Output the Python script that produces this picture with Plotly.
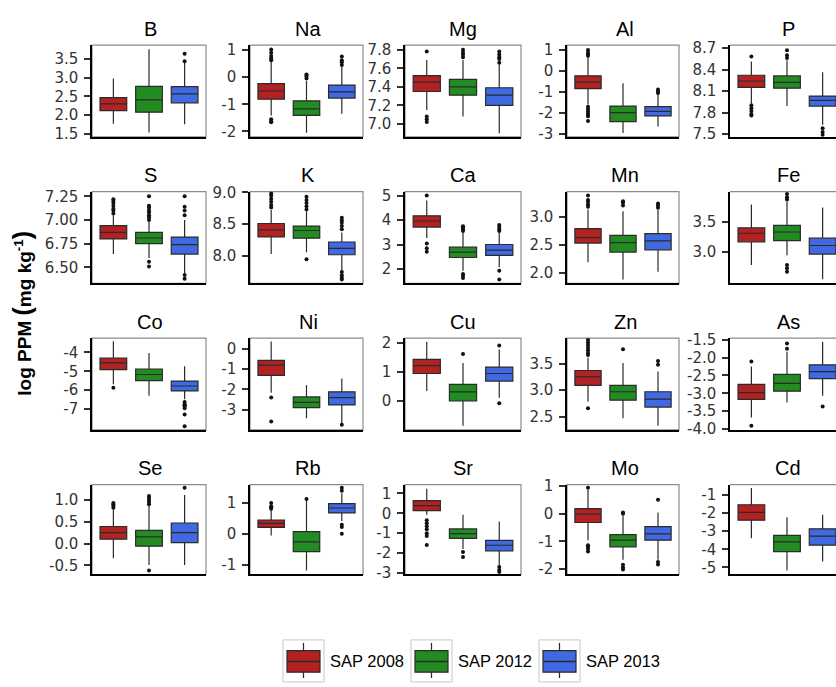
import plotly.graph_objects as go

# ---------------- data ----------------
ELEMENTS = ["B", "Na", "Mg", "Al", "P",
            "S", "K", "Ca", "Mn", "Fe",
            "Co", "Ni", "Cu", "Zn", "As",
            "Se", "Rb", "Sr", "Mo", "Cd"]
SERIES = ["SAP 2008", "SAP 2012", "SAP 2013"]

# per element: [SAP 2008, SAP 2012, SAP 2013]
LOWER = [
    [1.77, 1.54, 1.76], [-1.41, -2.05, -1.35], [7.15, 7.08, 6.90], [-1.60, -2.95, -2.64], [7.93, 7.89, 7.63],
    [6.64, 6.60, 6.44], [8.03, 8.06, 7.78], [3.27, 1.93, 2.07], [2.19, 1.88, 2.02], [2.79, 2.95, 2.56],
    [-5.69, -6.30, -6.48], [-2.16, -3.42, -3.70], [0.34, -0.85, 0.11], [2.78, 2.47, 2.33], [-3.68, -3.26, -3.07],
    [-0.34, -0.49, -0.49], [-0.05, -1.19, 0.42], [-0.08, -1.80, -2.62], [-0.96, -1.67, -1.67], [-3.39, -5.17, -4.67],
]
Q1 = [
    [2.12, 2.08, 2.33], [-0.81, -1.41, -0.77], [7.35, 7.31, 7.20], [-0.84, -2.41, -2.14], [8.15, 8.14, 7.89],
    [6.80, 6.75, 6.64], [8.30, 8.28, 8.02], [3.71, 2.47, 2.56], [2.53, 2.37, 2.41], [3.17, 3.19, 2.97],
    [-4.91, -5.49, -6.04], [-1.31, -2.89, -2.76], [0.94, 0.00, 0.68], [3.09, 2.81, 2.68], [-3.17, -2.94, -2.59],
    [0.10, -0.06, 0.02], [0.21, -0.58, 0.68], [0.13, -1.26, -1.89], [-0.32, -1.20, -0.96], [-2.39, -4.13, -3.77],
]
MEDIAN = [
    [2.30, 2.41, 2.57], [-0.51, -1.17, -0.54], [7.45, 7.40, 7.31], [-0.53, -1.98, -1.92], [8.24, 8.22, 7.97],
    [6.87, 6.81, 6.74], [8.41, 8.40, 8.12], [3.96, 2.69, 2.77], [2.63, 2.54, 2.57], [3.31, 3.33, 3.11],
    [-4.56, -5.17, -5.78], [-0.81, -2.64, -2.40], [1.21, 0.31, 0.94], [3.25, 2.97, 2.83], [-2.98, -2.72, -2.39],
    [0.25, 0.15, 0.25], [0.34, -0.26, 0.84], [0.38, -1.02, -1.61], [-0.02, -0.96, -0.73], [-1.96, -3.59, -3.27],
]
Q3 = [
    [2.47, 2.77, 2.76], [-0.24, -0.87, -0.29], [7.52, 7.48, 7.39], [-0.23, -1.67, -1.70], [8.32, 8.31, 8.03],
    [6.94, 6.87, 6.82], [8.51, 8.47, 8.22], [4.17, 2.89, 3.00], [2.79, 2.67, 2.70], [3.40, 3.44, 3.23],
    [-4.30, -4.88, -5.52], [-0.57, -2.37, -2.12], [1.42, 0.57, 1.16], [3.37, 3.09, 2.97], [-2.75, -2.47, -2.20],
    [0.39, 0.30, 0.47], [0.45, 0.07, 0.98], [0.64, -0.79, -1.36], [0.18, -0.76, -0.47], [-1.54, -3.23, -2.87],
]
UPPER = [
    [2.98, 3.76, 3.40], [0.58, -0.14, 0.40], [7.69, 7.69, 7.64], [0.67, -0.58, -1.12], [8.51, 8.53, 8.36],
    [7.05, 6.98, 7.00], [8.72, 8.70, 8.37], [4.80, 3.47, 3.47], [3.13, 3.10, 3.12], [3.78, 3.83, 3.73],
    [-3.42, -4.04, -4.74], [0.36, -1.80, -1.46], [2.03, 1.30, 1.76], [3.61, 3.51, 3.35], [-2.25, -1.83, -1.55],
    [0.78, 0.86, 1.11], [0.79, 1.10, 1.32], [1.23, -0.08, -0.41], [0.86, -0.08, 0.04], [-0.61, -2.23, -2.09],
]
OUTLIERS = [
    [[], [], [3.44, 3.64]],
    [[0.62, 0.70, 0.78, 0.90, 1.02, -1.55, -1.62, -1.66], [-0.05, 0.02, 0.08, 0.10], [0.45, 0.55, 0.62, 0.76]],
    [[7.78, 7.08, 7.05, 7.02], [7.72, 7.75, 7.77, 7.80], [7.66, 7.70, 7.72, 7.75, 7.78]],
    [[0.72, 0.80, 0.88, 1.00, -1.70, -1.80, -1.90, -2.00, -2.10, -2.15, -2.38], [], [-1.05, -0.98, -0.88]],
    [[8.58, 7.90, 7.86, 7.82, 7.78, 7.76], [8.56, 8.60, 8.67], [7.58, 7.53, 7.49]],
    [[7.07, 7.10, 7.12, 7.15, 7.18, 7.20, 7.22], [7.00, 7.03, 7.05, 7.08, 7.10, 7.13, 7.15, 7.25, 6.56, 6.51],
     [7.05, 7.10, 7.14, 7.25, 6.42, 6.38]],
    [[8.76, 8.80, 8.85, 8.90, 8.95, 8.98], [8.73, 8.78, 8.83, 8.88, 8.93, 7.95],
     [8.42, 8.47, 8.52, 8.56, 8.60, 7.75, 7.70, 7.66, 7.63]],
    [[5.00, 3.04, 2.85, 2.70], [3.55, 3.62, 3.70, 3.75, 1.80, 1.73, 1.63], [3.55, 3.62, 3.72, 3.80, 1.93, 1.57]],
    [[3.18, 3.22, 3.27, 3.30, 3.38], [3.20, 3.25, 3.28], [3.16, 3.20, 3.24]],
    [[], [3.86, 3.90, 3.95, 2.79, 2.74, 2.68], []],
    [[-5.87], [], [-6.62, -6.74, -6.80, -6.85, -6.95, -7.28, -7.90]],
    [[-2.40, -3.58], [], [-3.74]],
    [[], [1.61], [1.90, -0.08]],
    [[3.66, 3.70, 3.75, 3.80, 3.85, 3.90, 3.95, 2.66], [3.77], [3.48, 3.55]],
    [[-2.11, -3.91], [-1.75, -1.60], [-3.37]],
    [[0.82, 0.86, 0.90, 0.93], [0.90, 0.95, 1.00, 1.05, 1.09, -0.62], [1.28]],
    [[0.82, 0.86, 0.90, 1.00], [1.13], [1.40, 1.50, 0.30, 0.22, 0.00]],
    [[-0.35, -0.50, -0.65, -0.80, -1.00, -1.15, -1.60], [-1.95, -2.20], [-2.70, -2.85, -2.95]],
    [[0.94, -1.14, -1.20, -1.27, -1.37], [0.00, 0.04, -1.85, -1.95, -2.02], [0.50, -1.75, -1.84]],
    [[], [], []],
]
Y_TICKS = [
    [1.5, 2.0, 2.5, 3.0, 3.5], [-2, -1, 0, 1], [7.0, 7.2, 7.4, 7.6, 7.8], [-3, -2, -1, 0, 1], [7.5, 7.8, 8.1, 8.4, 8.7],
    [6.50, 6.75, 7.00, 7.25], [8.0, 8.5, 9.0], [2, 3, 4, 5], [2.0, 2.5, 3.0], [3.0, 3.5],
    [-7, -6, -5, -4], [-3, -2, -1, 0], [0, 1, 2], [2.5, 3.0, 3.5], [-4.0, -3.5, -3.0, -2.5, -2.0, -1.5],
    [-0.5, 0.0, 0.5, 1.0], [-1, 0, 1], [-3, -2, -1, 0, 1], [-2, -1, 0, 1], [-5, -4, -3, -2, -1],
]
Y_TICK_DECIMALS = [1, 0, 1, 0, 1,
                   2, 1, 0, 1, 1,
                   0, 0, 0, 1, 1,
                   1, 0, 0, 0, 0]

# ---------------- style / layout config ----------------
COLORS = ["#B22222", "#228B22", "#4169E1"]
Y_RANGES = [
    [1.42, 3.87], [-2.2, 1.18], [6.86, 7.85], [-3.14, 1.23], [7.46, 8.74],
    [6.33, 7.30], [7.57, 9.01], [1.41, 5.16], [1.81, 3.45], [2.49, 3.99],
    [-8.1, -3.25], [-3.99, 0.52], [-0.99, 2.15], [2.25, 3.98], [-4.03, -1.45],
    [-0.71, 1.35], [-1.32, 1.60], [-3.08, 1.44], [-2.2, 1.05], [-5.39, -0.43],
]
W, H = 836, 687
COL_L = [92, 250, 405, 567, 730]
COL_R = [206, 363, 521, 679, 836]
ROW_T = [38, 188, 338, 488]
ROW_B = [132, 282, 432, 580]
PANEL_W = 114
TICK_FONT = dict(family="DejaVu Sans", size=15, color="#333333")
TITLE_FONT = dict(family="Liberation Sans, Arial", size=20, color="black")


def px(x):
    return x / W


def py(y):
    return 1 - y / H


fig = go.Figure()
layout = dict(width=W, height=H, margin=dict(l=0, r=0, t=0, b=0),
              paper_bgcolor="white", plot_bgcolor="white",
              showlegend=False, boxmode="overlay")
shapes = []
annotations = []

for k, el in enumerate(ELEMENTS):
    r, c = divmod(k, 5)
    n = k + 1
    xa = "x" if n == 1 else f"x{n}"
    ya = "y" if n == 1 else f"y{n}"
    xkey = "xaxis" if n == 1 else f"xaxis{n}"
    ykey = "yaxis" if n == 1 else f"yaxis{n}"

    for i in range(3):
        fig.add_trace(go.Box(
            x=[i], q1=[Q1[k][i]], median=[MEDIAN[k][i]], q3=[Q3[k][i]],
            lowerfence=[LOWER[k][i]], upperfence=[UPPER[k][i]],
            width=0.75, fillcolor=COLORS[i],
            line=dict(color="#2b2b2b", width=1.2), whiskerwidth=0,
            boxpoints=False, name=SERIES[i], xaxis=xa, yaxis=ya,
            hoverinfo="skip"))
    ox, oy = [], []
    for i in range(3):
        for v in OUTLIERS[k][i]:
            ox.append(i)
            oy.append(v)
    if ox:
        fig.add_trace(go.Scatter(x=ox, y=oy, mode="markers",
                                 marker=dict(color="#111111", size=4),
                                 xaxis=xa, yaxis=ya, hoverinfo="skip"))

    last = (c == 4)
    xr = [-0.6, -0.6 + (COL_R[c] - COL_L[c]) / PANEL_W * 3.2] if last else [-0.6, 2.6]
    layout[xkey] = dict(domain=[px(COL_L[c]), px(COL_R[c])], range=xr,
                        showticklabels=False, ticks="", showgrid=False,
                        zeroline=False, showline=True, linecolor="black",
                        linewidth=1.5, anchor=ya, fixedrange=True)
    dec = Y_TICK_DECIMALS[k]
    layout[ykey] = dict(domain=[py(ROW_B[r]), py(ROW_T[r])], range=Y_RANGES[k],
                        tickvals=Y_TICKS[k],
                        ticktext=[f"{v:.{dec}f}" for v in Y_TICKS[k]],
                        ticks="outside", ticklen=6, tickwidth=1.5,
                        tickcolor="#333333", tickfont=TICK_FONT,
                        ticklabelstandoff=3,
                        showgrid=False, zeroline=False, showline=True,
                        linecolor="black", linewidth=1.5, anchor=xa,
                        fixedrange=True)
    if last:
        shapes.append(dict(type="line", xref=f"{xa} domain", yref=f"{ya} domain",
                           x0=0, x1=1, y0=1, y1=1, layer="below",
                           line=dict(color="#8c8c8c", width=1.2)))
    else:
        shapes.append(dict(type="rect", xref=f"{xa} domain", yref=f"{ya} domain",
                           x0=0, x1=1, y0=0, y1=1, layer="below",
                           line=dict(color="#8c8c8c", width=1.2)))
    annotations.append(dict(text=el, xref="paper", yref="paper",
                            x=px(COL_L[c] + PANEL_W / 2 + 1), y=py(ROW_T[r] - 17),
                            xanchor="center", yanchor="middle", showarrow=False,
                            font=TITLE_FONT))

# y axis title
annotations.append(dict(
    text="<b>log PPM <span style='font-size:25px'>(</span>mg kg<sup>-1</sup><span style='font-size:25px'>)</span></b>",
    xref="paper", yref="paper", x=px(22), y=py(313), textangle=-90,
    xanchor="center", yanchor="middle", showarrow=False,
    font=dict(family="Liberation Sans, Arial", size=19, color="black")))

# legend (drawn manually to mimic ggplot keys)
LEG_X = [283, 411, 539]
for i, name in enumerate(SERIES):
    x0 = LEG_X[i]
    cx = x0 + 20.5
    shapes.append(dict(type="rect", xref="paper", yref="paper",
                       x0=px(x0), x1=px(x0 + 41), y0=py(690), y1=py(647),
                       line=dict(color="#c8c8c8", width=1), fillcolor="white"))
    shapes.append(dict(type="line", xref="paper", yref="paper",
                       x0=px(cx), x1=px(cx), y0=py(650), y1=py(686),
                       line=dict(color="#2b2b2b", width=1.2)))
    shapes.append(dict(type="rect", xref="paper", yref="paper",
                       x0=px(x0 + 4), x1=px(x0 + 37), y0=py(680), y1=py(658),
                       line=dict(color="#2b2b2b", width=1.2), fillcolor=COLORS[i]))
    shapes.append(dict(type="line", xref="paper", yref="paper",
                       x0=px(x0 + 4), x1=px(x0 + 37), y0=py(669), y1=py(669),
                       line=dict(color="#2b2b2b", width=1.5)))
    annotations.append(dict(text=name, xref="paper", yref="paper",
                            x=px(x0 + 45), y=py(669), xanchor="left", yanchor="middle",
                            showarrow=False,
                            font=dict(family="Liberation Sans, Arial", size=16.5, color="black")))

layout["shapes"] = shapes
layout["annotations"] = annotations
fig.update_layout(**layout)
fig.write_html("out.html")
